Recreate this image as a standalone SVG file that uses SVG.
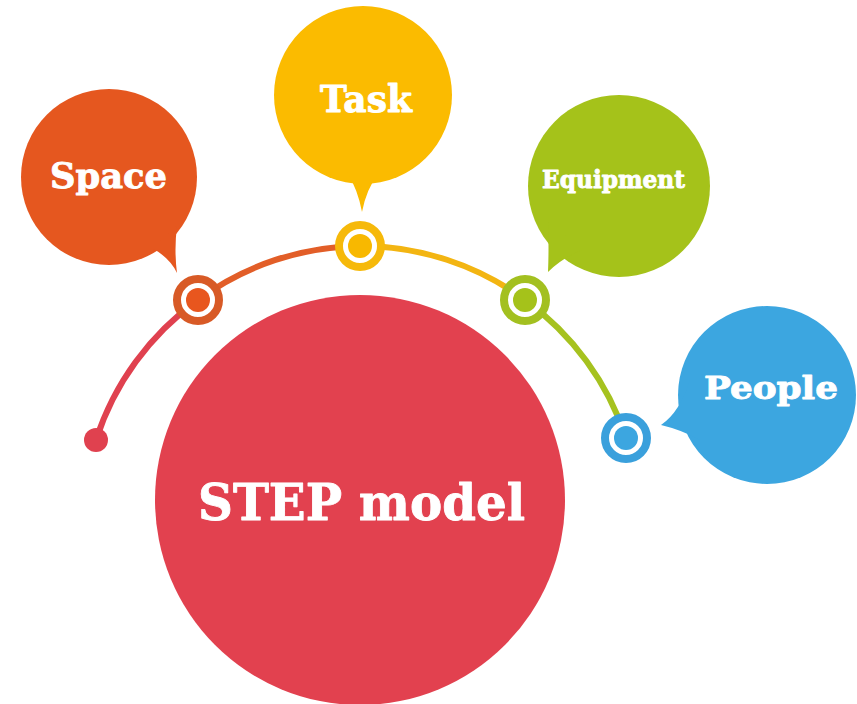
<svg xmlns="http://www.w3.org/2000/svg" width="857" height="704" viewBox="0 0 857 704">
  <style>
    .label { font-family: "DejaVu Serif", "Liberation Serif", serif; font-weight: bold; fill: #ffffff; stroke: #ffffff; stroke-width: 0.9; stroke-linejoin: round; text-anchor: middle; }
    .seg { fill: none; stroke-width: 6; stroke-linecap: round; }
    .ring { fill: #ffffff; stroke-width: 8; }
  </style>
  <rect width="857" height="704" fill="#ffffff"/>

  <!-- connector arc: centre (360,523), radius ~277 -->
  <g id="connectors">
    <path class="seg" stroke="#e0414f" d="M96,440 A277,277 0 0 1 198,300"/>
    <path class="seg" stroke="#e25e28" d="M198,300 A277,277 0 0 1 360,246"/>
    <path class="seg" stroke="#f3b512" d="M360,246 A277,277 0 0 1 525,300"/>
    <path class="seg" stroke="#a6c21f" d="M525,300 A277,277 0 0 1 626,438"/>
    <circle cx="96" cy="440" r="12" fill="#e0414f"/>
  </g>

  <!-- central node -->
  <g id="step-model">
    <circle cx="360" cy="500" r="205" fill="#e2414f"/>
    <text class="label" x="361.5" y="520" font-size="51" stroke-width="1.4" textLength="327" lengthAdjust="spacingAndGlyphs">STEP model</text>
  </g>

  <!-- Space -->
  <g id="space">
    <circle cx="109" cy="177" r="88" fill="#e5571f"/>
    <path d="M152,248 Q170,258 177,273 Q174,250 177,226 Z" fill="#e5571f"/>
    <text class="label" x="108.5" y="188" font-size="36" textLength="117" lengthAdjust="spacingAndGlyphs">Space</text>
    <circle class="ring" cx="198" cy="300" r="21" stroke="#d85a26"/>
    <circle cx="198" cy="300" r="12" fill="#e8561e"/>
  </g>

  <!-- Task -->
  <g id="task">
    <circle cx="363" cy="95" r="89" fill="#fbbb00"/>
    <path d="M347,172 Q358,190 362,212 Q366,190 379,172 Z" fill="#fbbb00"/>
    <text class="label" x="366" y="112" font-size="38" textLength="92" lengthAdjust="spacingAndGlyphs">Task</text>
    <circle class="ring" cx="360" cy="246" r="21" stroke="#f6b90a"/>
    <circle cx="360" cy="246" r="12" fill="#f8b800"/>
  </g>

  <!-- Equipment -->
  <g id="equipment">
    <circle cx="619" cy="186" r="91" fill="#a5c21a"/>
    <path d="M548,220 Q549,250 548,272 Q562,258 582,250 Z" fill="#a5c21a"/>
    <text class="label" x="613.5" y="188" font-size="25" stroke-width="0.6" textLength="143" lengthAdjust="spacingAndGlyphs">Equipment</text>
    <circle class="ring" cx="525" cy="300" r="21" stroke="#a3c020"/>
    <circle cx="525" cy="300" r="12" fill="#a5c21a"/>
  </g>

  <!-- People -->
  <g id="people">
    <circle cx="767" cy="395" r="89" fill="#3ca6e0"/>
    <path d="M690,380 Q680,412 661,425 Q682,430 700,440 Z" fill="#3ca6e0"/>
    <text class="label" x="771" y="399" font-size="31" textLength="134" lengthAdjust="spacingAndGlyphs">People</text>
    <circle class="ring" cx="626" cy="438" r="21" stroke="#3aa0dc"/>
    <circle cx="626" cy="438" r="12" fill="#3ca6e0"/>
  </g>
</svg>
